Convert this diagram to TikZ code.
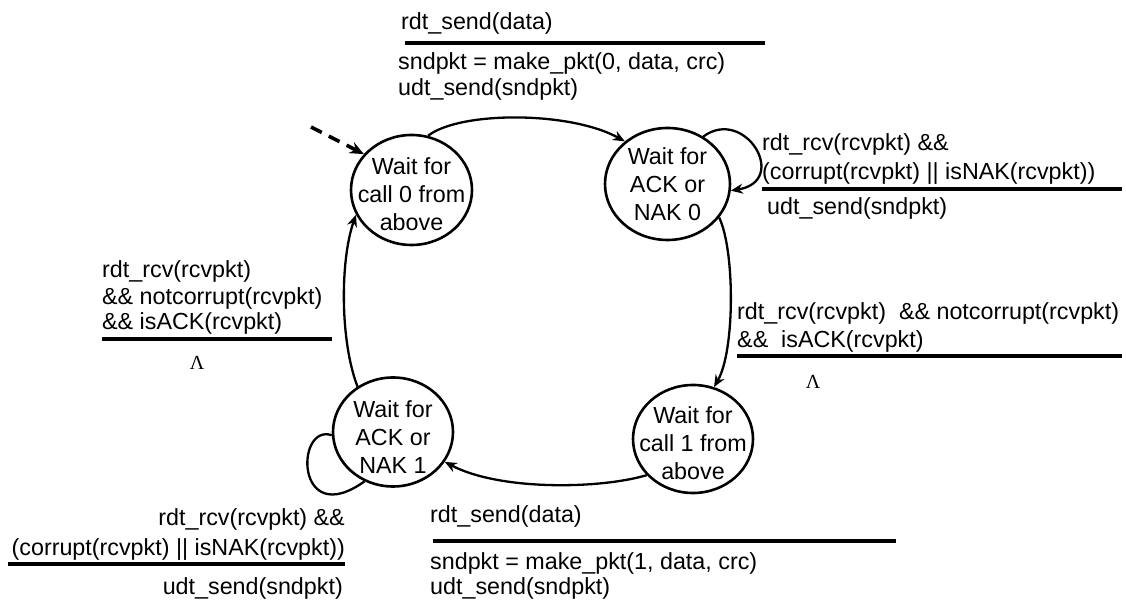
\documentclass[tikz,border=0pt]{standalone}
\usepackage{fontspec}
\setmainfont{Liberation Sans}
\newfontfamily\lamfont{Liberation Serif}
\usetikzlibrary{arrows.meta,shapes.geometric}
\begin{document}
\begin{tikzpicture}[x=1pt,y=1pt,
  state/.style={draw,ellipse,line width=2.6pt,inner sep=0pt},
  stxt/.style={align=center,inner sep=0pt,font=\fontsize{23.3}{28}\selectfont},
  txt/.style={inner sep=0pt,anchor=base west,font=\fontsize{23.3}{28}\selectfont},
  rtxt/.style={inner sep=0pt,anchor=base east,font=\fontsize{23.3}{28}\selectfont},
  lam/.style={inner sep=0pt,font=\lamfont\fontsize{20}{22}\selectfont},
  bar/.style={line width=3.5pt},
  edge/.style={line width=2.3pt,-{Stealth[length=12pt,width=10pt]}},
  loopline/.style={line width=2.3pt},
  initarrow/.style={line width=3.6pt,dash pattern=on 12pt off 8pt,-{Stealth[length=14pt,width=12pt]}}]
\useasboundingbox (0,0) rectangle (1126,601);

% states
\node[state,minimum width=121pt,minimum height=110pt,
  label={[stxt,yshift=-4pt]center:{Wait for\\call 0 from\\above}}] (s0) at (411.5,411) {};
\node[state,minimum width=125pt,minimum height=112pt,
  label={[stxt]center:{Wait for\\ACK or\\NAK 0}}] (s1) at (667.5,417) {};
\node[state,minimum width=120pt,minimum height=108pt,
  label={[stxt,yshift=-4pt]center:{Wait for\\call 1 from\\above}}] (s2) at (693,162) {};
\node[state,minimum width=120pt,minimum height=109pt,
  label={[stxt,yshift=-5pt]center:{Wait for\\ACK or\\NAK 1}}] (s3) at (393,169) {};

% transitions
\coordinate (init) at (311,474);
\draw[initarrow] (init) -- (s0.143);
\draw[edge] (s0.73) .. controls (460,490) and (570,490) .. (s1.135);
\draw[edge] (s1.53) .. controls (745,495) and (790,420) .. (s1.-6);
\draw[edge] (s1.-33) .. controls (735,350) and (735,250) .. (s2.68);
\draw[edge] (s2.218) .. controls (600,112) and (500,110) .. (s3.-30);
\draw[loopline] (s3.183) .. controls (295,178) and (295,70) .. (s3.240);
\draw[edge] (s3.128) .. controls (340,260) and (340,340) .. (s0.204);

% top label
\node[txt] (t1) at (401,571) {rdt\_send(data)};
\draw[bar] (405,558) -- (765,558);
\node[txt] (t2) at (398,531) {sndpkt = make\_pkt(0, data, crc)};
\node[txt] (t3) at (398,505) {udt\_send(sndpkt)};

% s1 self loop label
\node[txt] (a1) at (762,450) {rdt\_rcv(rcvpkt) \&\&};
\node[txt] (a2) at (762,421) {(corrupt(rcvpkt) || isNAK(rcvpkt))};
\draw[bar] (762,412) -- (1122,412);
\node[txt] (a3) at (767,386) {udt\_send(sndpkt)};

% s1 -> s2 label
\node[txt] (b1) at (737,281) {rdt\_rcv(rcvpkt)\ \ \&\& notcorrupt(rcvpkt)};
\node[txt] (b2) at (737,253) {\&\&\ \ isACK(rcvpkt)};
\draw[bar] (737,245) -- (1122,245);
\node[lam] (b3) at (813,219) {Λ};

% s3 -> s0 label
\node[txt] (c1) at (102,323) {rdt\_rcv(rcvpkt)};
\node[txt] (c2) at (102,296) {\&\& notcorrupt(rcvpkt)};
\node[txt] (c3) at (102,271) {\&\& isACK(rcvpkt)};
\draw[bar] (102,262) -- (332,262);
\node[lam] (c4) at (197,238) {Λ};

% s3 self loop label
\node[rtxt] (d1) at (345,75) {rdt\_rcv(rcvpkt) \&\&};
\node[rtxt] (d2) at (345,45) {(corrupt(rcvpkt) || isNAK(rcvpkt))};
\draw[bar] (8,37) -- (345,37);
\node[rtxt] (d3) at (343,6) {udt\_send(sndpkt)};

% bottom label
\node[txt] (e1) at (430,78) {rdt\_send(data)};
\draw[bar] (433,60) -- (896,60);
\node[txt] (e2) at (430,31) {sndpkt = make\_pkt(1, data, crc)};
\node[txt] (e3) at (430,6) {udt\_send(sndpkt)};
\end{tikzpicture}
\end{document}
